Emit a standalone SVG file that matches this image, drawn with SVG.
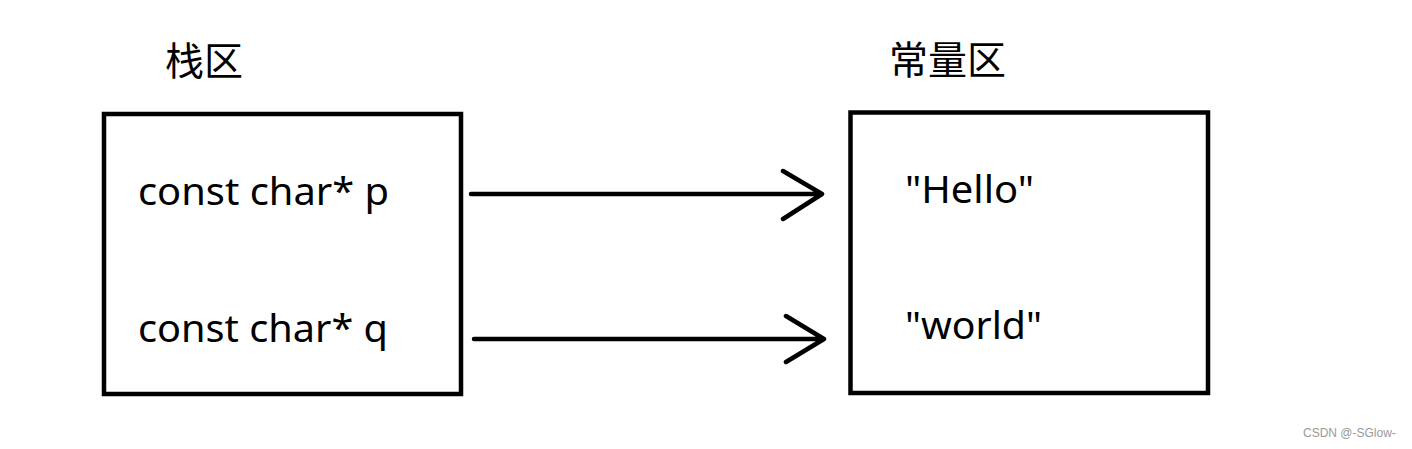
<svg xmlns="http://www.w3.org/2000/svg" width="1412" height="449" viewBox="0 0 1412 449">
<style>
.box{fill:none;stroke:#000;stroke-width:4.5}
.lbl{font-family:"Noto Sans","Open Sans",sans-serif;font-size:39px;fill:#000}
.cjk{font-family:"Noto Sans CJK SC",sans-serif;font-size:39px;fill:#000}
.arr{fill:none;stroke:#000;stroke-width:4.5;stroke-linecap:round;stroke-linejoin:round}
.wm{font-family:"Liberation Sans",Arial,sans-serif;font-size:12px;fill:#999}
</style>
<rect width="1412" height="449" fill="#fff"/>
<g id="stack">
<text class="cjk" x="165" y="75" textLength="78" lengthAdjust="spacingAndGlyphs">栈区</text>
<rect class="box" x="104" y="114" width="357" height="280"/>
<text class="lbl" x="138" y="205" textLength="251" lengthAdjust="spacingAndGlyphs">const char* p</text>
<text class="lbl" x="138" y="342" textLength="250" lengthAdjust="spacingAndGlyphs">const char* q</text>
</g>
<g id="const">
<text class="cjk" x="889" y="74" textLength="117" lengthAdjust="spacingAndGlyphs">常量区</text>
<rect class="box" x="850.5" y="112.5" width="357.5" height="280.5"/>
<text class="lbl" x="905" y="203" textLength="129" lengthAdjust="spacingAndGlyphs">"Hello"</text>
<text class="lbl" x="905" y="339" textLength="137" lengthAdjust="spacingAndGlyphs">"world"</text>
</g>
<g id="connectors">
<path class="arr" d="M471 194H822M783 171L822 194L783 219"/>
<path class="arr" d="M474 339H824M786 316L824 339L786 362"/>
</g>
<text class="wm" x="1303" y="437">CSDN @-SGlow-</text>
</svg>
